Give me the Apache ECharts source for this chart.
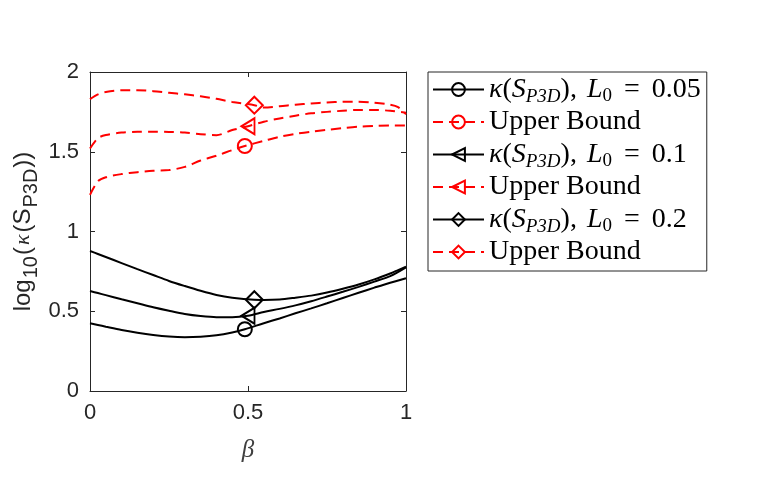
<!DOCTYPE html>
<html>
<head>
<meta charset="utf-8">
<script src="https://cdn.jsdelivr.net/npm/echarts@6/dist/echarts.min.js"></script>
<style>
html, body { margin: 0; padding: 0; background: #fff; }
#chart { width: 761px; height: 480px; }
</style>
</head>
<body>
<div id="chart"></div>
<script>
// beta grids (one per L0), each holds the beta where the marker sits
var betaC = [0, 0.025, 0.05, 0.1, 0.15, 0.2, 0.25, 0.3, 0.35, 0.4, 0.45, 0.49, 0.55, 0.6, 0.65, 0.7, 0.75, 0.8, 0.85, 0.9, 0.95, 1];
var betaT = [0, 0.025, 0.05, 0.1, 0.15, 0.2, 0.25, 0.3, 0.35, 0.4, 0.45, 0.5, 0.55, 0.6, 0.65, 0.7, 0.75, 0.8, 0.85, 0.9, 0.95, 1];
var betaD = [0, 0.025, 0.05, 0.1, 0.15, 0.2, 0.25, 0.3, 0.35, 0.4, 0.45, 0.52, 0.55, 0.6, 0.65, 0.7, 0.75, 0.8, 0.85, 0.9, 0.95, 0.975, 1];
var markC = 0.49, markT = 0.5, markD = 0.52;

// log10(kappa) curves
var kappaC = [0.425, 0.414, 0.403, 0.382, 0.365, 0.351, 0.341, 0.337, 0.340, 0.349, 0.367, 0.387, 0.425, 0.455, 0.487, 0.518, 0.550, 0.583, 0.616, 0.648, 0.679, 0.707];
var kappaT = [0.627, 0.614, 0.601, 0.575, 0.550, 0.525, 0.503, 0.483, 0.470, 0.463, 0.463, 0.472, 0.495, 0.515, 0.537, 0.563, 0.592, 0.622, 0.653, 0.686, 0.720, 0.775];
var kappaD = [0.878, 0.859, 0.840, 0.802, 0.764, 0.727, 0.690, 0.658, 0.628, 0.602, 0.585, 0.572, 0.571, 0.574, 0.585, 0.598, 0.617, 0.641, 0.668, 0.700, 0.737, 0.758, 0.779];

// upper bounds
var upperC = [1.23, 1.315, 1.34, 1.36, 1.372, 1.381, 1.385, 1.405, 1.445, 1.475, 1.51, 1.536, 1.568, 1.594, 1.612, 1.626, 1.637, 1.648, 1.657, 1.662, 1.665, 1.664];
var upperT = [1.52, 1.585, 1.605, 1.62, 1.625, 1.626, 1.624, 1.62, 1.61, 1.604, 1.636, 1.66, 1.688, 1.709, 1.726, 1.741, 1.75, 1.757, 1.762, 1.762, 1.757, 1.745];
var upperD = [1.83, 1.86, 1.875, 1.886, 1.886, 1.88, 1.87, 1.86, 1.848, 1.832, 1.812, 1.792, 1.777, 1.785, 1.795, 1.803, 1.809, 1.813, 1.814, 1.808, 1.795, 1.78, 1.735];

var xTicks = [0, 0.5, 1];
var yTicks = [0, 0.5, 1, 1.5, 2];

var kLabel = '{it|κ}({it|S}{sub|P3D}),{gap| }{it|L}{sub0|0}{eq|=}';
var legendText = {
    kC: kLabel + '0.05',
    uC: 'Upper Bound',
    kT: kLabel + '0.1',
    uT: 'Upper Bound',
    kD: kLabel + '0.2',
    uD: 'Upper Bound'
};

var diamond = 'path://M0,-1L1,0L0,1L-1,0Z';

function makeSeries(name, beta, vals, mark, color, dashed, sym, size, rot) {
    var mi = beta.indexOf(mark);
    var data = [];
    for (var i = 0; i < beta.length; i++) {
        data.push({ value: [beta[i], vals[i]], symbol: i === mi ? sym : 'none' });
    }
    return {
        name: name,
        type: 'line',
        data: data,
        smooth: 0.3,
        symbol: sym,
        symbolSize: size,
        symbolRotate: rot || 0,
        showAllSymbol: true,
        animation: false,
        z: dashed ? 2 : 3,
        lineStyle: { color: color, width: 2, type: dashed ? [10, 6] : 'solid' },
        itemStyle: { color: 'rgba(0,0,0,0)', borderColor: color, borderWidth: 2 },
        emphasis: { disabled: true }
    };
}

var chart = echarts.init(document.getElementById('chart'));

var tickFont = { fontFamily: 'Liberation Sans', fontSize: 22, color: '#262626' };
var serif = 'Liberation Serif';

function frameAxis(extra) {
    var a = {
        axisLine: { show: true, onZero: false, lineStyle: { color: '#262626', width: 1 } },
        axisTick: { show: true, inside: true, length: 5, lineStyle: { color: '#262626' } },
        splitLine: { show: false }
    };
    for (var k in extra) a[k] = extra[k];
    return a;
}

var option = {
    animation: false,
    grid: { left: 90, top: 72, width: 316, height: 319, show: false },
    legend: {
        orient: 'vertical',
        left: 428,
        top: 72,
        itemWidth: 51,
        itemHeight: 16,
        itemGap: 1,
        padding: [1, 6, 4, 4],
        borderColor: '#262626',
        borderWidth: 1,
        backgroundColor: '#fff',
        iconRotate: 'inherit',
        selectedMode: false,
        data: ['kC', 'uC', 'kT', 'uT', 'kD', 'uD'],
        formatter: function (n) { return legendText[n]; },
        textStyle: {
            fontFamily: serif,
            fontSize: 28,
            lineHeight: 30,
            color: '#000',
            rich: {
                it: { fontFamily: serif, fontStyle: 'italic', fontSize: 28, lineHeight: 30 },
                gap: { fontFamily: serif, fontSize: 28, lineHeight: 30, padding: [0, 3, 0, 0] },
                eq: { fontFamily: serif, fontSize: 28, lineHeight: 30, padding: [0, 12, 0, 12] },
                sub: { fontFamily: serif, fontStyle: 'italic', fontSize: 19, lineHeight: 16, padding: [14, 0, 0, 0] },
                sub0: { fontFamily: serif, fontSize: 19, lineHeight: 16, padding: [14, 0, 0, 0] }
            }
        }
    },
    xAxis: [frameAxis({
        type: 'value', min: 0, max: 1, interval: 0.5,
        position: 'bottom',
        name: 'β', nameLocation: 'middle', nameGap: 47,
        nameTextStyle: { fontFamily: serif, fontStyle: 'italic', fontSize: 25, color: '#404040' },
        axisLabel: Object.assign({ margin: 11, formatter: function (v) { return xTicks.indexOf(v) >= 0 ? String(v) : ''; } }, tickFont)
    }), frameAxis({
        type: 'value', min: 0, max: 1, interval: 0.5,
        position: 'top',
        axisLabel: { show: false }
    })],
    yAxis: [frameAxis({
        type: 'value', min: 0, max: 2, interval: 0.5,
        position: 'left',
        name: 'log{sub|10}({k|κ}(S{sub|P3D}))',
        nameLocation: 'middle', nameGap: 53, nameRotate: 90,
        nameTextStyle: {
            fontFamily: 'Liberation Sans', fontSize: 24, color: '#262626', lineHeight: 28,
            rich: {
                sub: { fontFamily: 'Liberation Sans', fontSize: 20, color: '#262626', lineHeight: 14, padding: [16, 1, 0, 1] },
                k: { fontFamily: serif, fontStyle: 'italic', fontSize: 22, color: '#262626', lineHeight: 28, padding: [0, 2, 0, 2] }
            }
        },
        axisLabel: Object.assign({ margin: 11, formatter: function (v) { return yTicks.indexOf(v) >= 0 ? String(v) : ''; } }, tickFont)
    }), frameAxis({
        type: 'value', min: 0, max: 2, interval: 0.5,
        position: 'right',
        axisLabel: { show: false }
    })],
    series: [
        makeSeries('kC', betaC, kappaC, markC, '#000000', false, 'circle', 14),
        makeSeries('uC', betaC, upperC, markC, '#ff0000', true, 'circle', 14),
        makeSeries('kT', betaT, kappaT, markT, '#000000', false, 'triangle', [16, 13], 90),
        makeSeries('uT', betaT, upperT, markT, '#ff0000', true, 'triangle', [16, 13], 90),
        makeSeries('kD', betaD, kappaD, markD, '#000000', false, diamond, 17),
        makeSeries('uD', betaD, upperD, markD, '#ff0000', true, diamond, 17)
    ]
};

chart.setOption(option);
</script>
</body>
</html>
